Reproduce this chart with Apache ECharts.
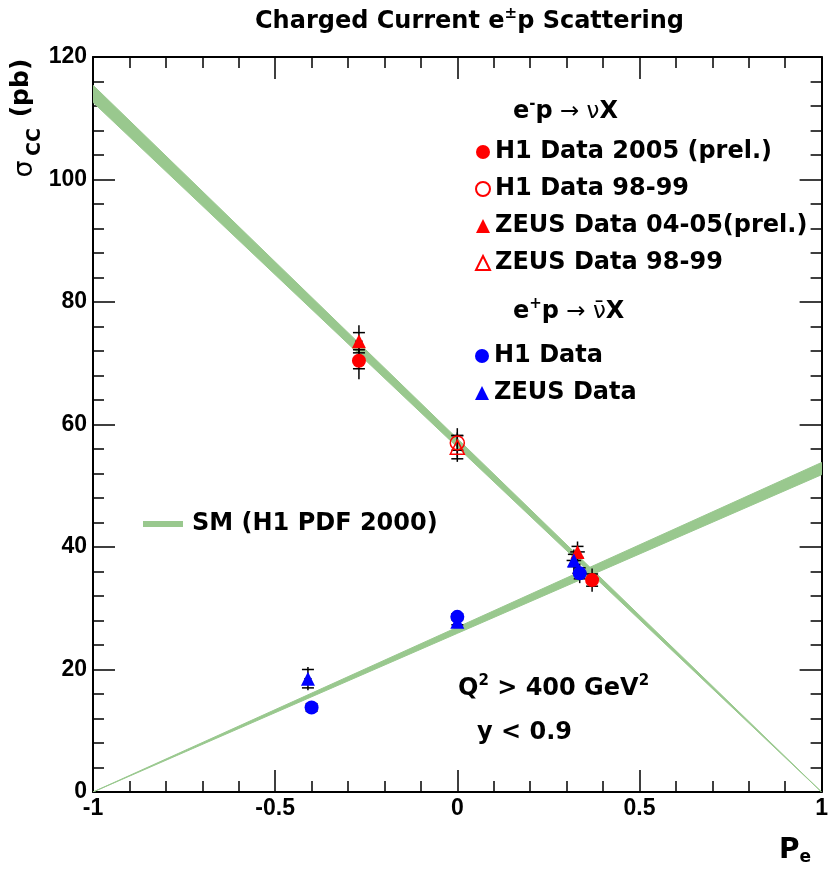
<!DOCTYPE html>
<html>
<head>
<meta charset="utf-8">
<script src="https://cdn.jsdelivr.net/npm/echarts@6/dist/echarts.min.js"></script>
<style>
html,body{margin:0;padding:0;background:#fff;}
#chart{width:831px;height:872px;}
</style>
</head>
<body>
<div id="chart"></div>
<script>
// ---- data ----
const xRange = [-1, 1];
const yRange = [0, 120];
// Standard Model bands (H1 PDF 2000): x, lower edge, upper edge
const smX = [-1, 1];
const smEmLow = [112.6, 0];
const smEmHigh = [115.4, 0];
const smEpLow = [0, 51.8];
const smEpHigh = [0, 53.8];
// e-p -> nu X
const h1_05_x = [-0.27, 0.37];
const h1_05_y = [70.4, 34.6];
const h1_05_xErr = [0.01, 0.01];
const h1_05_stat = [1.3, 1.0];
const h1_05_tot = [3.0, 1.9];

const h1_98_x = [0.0];
const h1_98_y = [57.0];
const h1_98_xErr = [0.0];
const h1_98_stat = [1.2];
const h1_98_tot = [2.4];

const zeus_05_x = [-0.27, 0.33];
const zeus_05_y = [73.6, 39.2];
const zeus_05_xErr = [0.01, 0.02];
const zeus_05_stat = [1.4, 0.9];
const zeus_05_tot = [2.6, 1.7];

const zeus_98_x = [0.0];
const zeus_98_y = [56.3];
const zeus_98_xErr = [0.0];
const zeus_98_stat = [1.9];
const zeus_98_tot = [2.4];
// e+p -> nubar X
const h1_ep_x = [-0.40, 0.0, 0.336];
const h1_ep_y = [13.8, 28.6, 35.7];
const h1_ep_xErr = [0.01, 0.0, 0.02];
const h1_ep_stat = [0.6, 0.5, 0.9];
const h1_ep_tot = [1.0, 0.8, 1.6];

const zeus_ep_x = [-0.41, 0.0, 0.32];
const zeus_ep_y = [18.5, 27.8, 37.8];
const zeus_ep_xErr = [0.01, 0.0, 0.02];
const zeus_ep_stat = [1.5, 0.5, 1.0];
const zeus_ep_tot = [1.9, 0.8, 1.8];

const names = {
  h1_05: 'H1 Data 2005 (prel.)',
  h1_98: 'H1 Data 98-99',
  zeus_05: 'ZEUS Data 04-05(prel.)',
  zeus_98: 'ZEUS Data 98-99',
  h1_ep: 'H1 Data',
  zeus_ep: 'ZEUS Data',
  sm: 'SM (H1 PDF 2000)'
};

// ---- styling ----
const FONT = '"Liberation Sans", Arial, Helvetica, sans-serif';
const TFONT = '"DejaVu Sans", sans-serif';
const GREEN = '#99c88e';
const RED = '#ff0000';
const BLUE = '#0000ff';

const pts = (xs, ys) => xs.map((x, i) => [x, ys[i]]);
const errRows = (xs, ys, xe, st, tt) => xs.map((x, i) => [x, ys[i], xe[i], st[i], tt[i]]);
const bandSegs = (xs, lo, hi) => xs.slice(0, -1).map((x, i) => [x, lo[i], hi[i], xs[i + 1], lo[i + 1], hi[i + 1]]);

function renderBand(params, api) {
  const p1 = api.coord([api.value(0), api.value(1)]);
  const p2 = api.coord([api.value(3), api.value(4)]);
  const p3 = api.coord([api.value(3), api.value(5)]);
  const p4 = api.coord([api.value(0), api.value(2)]);
  return {type: 'polygon', shape: {points: [p1, p2, p3, p4]}, style: {fill: GREEN, stroke: GREEN, lineWidth: 1}};
}
function bandSeries(data) {
  return {type: 'custom', name: names.sm, renderItem: renderBand, data, encode: {x: [0, 3], y: [1, 2, 4, 5]},
          itemStyle: {color: GREEN}, z: 1, silent: true, clip: true};
}

function renderErr(params, api) {
  const x = api.value(0), y = api.value(1), xe = api.value(2), st = api.value(3), tt = api.value(4);
  const top = api.coord([x, y + tt]), bot = api.coord([x, y - tt]);
  const sT = api.coord([x, y + st]), sB = api.coord([x, y - st]);
  const l = api.coord([x - xe, y]), r = api.coord([x + xe, y]);
  const st1 = {stroke: '#000', lineWidth: 1.5};
  const w = 6;
  const children = [
    {type: 'line', shape: {x1: top[0], y1: top[1], x2: bot[0], y2: bot[1]}, style: st1},
    {type: 'line', shape: {x1: sT[0] - w, y1: sT[1], x2: sT[0] + w, y2: sT[1]}, style: st1},
    {type: 'line', shape: {x1: sB[0] - w, y1: sB[1], x2: sB[0] + w, y2: sB[1]}, style: st1}
  ];
  if (xe > 0) children.push({type: 'line', shape: {x1: l[0], y1: l[1], x2: r[0], y2: r[1]}, style: st1});
  return {type: 'group', children};
}
function errSeries(data) {
  return {type: 'custom', renderItem: renderErr, data, encode: {x: 0, y: 1}, z: 3, silent: true, clip: false};
}

function scatter(name, data, symbol, color, filled) {
  return {
    type: 'scatter', name, data, symbol, symbolSize: 14, z: 4, silent: true,
    itemStyle: filled ? {color: color, opacity: 1}
                      : {color: 'rgba(0,0,0,0)', borderColor: color, borderWidth: 1.5, opacity: 1}
  };
}

const tickStyle = {color: '#000', width: 1.5};
function xAxisDef(pos, labels) {
  return {
    type: 'value', position: pos, min: xRange[0], max: xRange[1], interval: 0.5,
    axisLine: {show: true, onZero: false, lineStyle: {color: '#000', width: 2}},
    axisTick: {show: true, inside: true, length: 22, lineStyle: tickStyle},
    minorTick: {show: true, splitNumber: 5, length: 11, lineStyle: tickStyle},
    splitLine: {show: false},
    axisLabel: {show: labels, color: '#000', fontSize: 23, fontWeight: 'bold', fontFamily: FONT, margin: 5},
  };
}
function yAxisDef(pos, labels) {
  return {
    type: 'value', position: pos, min: yRange[0], max: yRange[1], interval: 20,
    axisLine: {show: true, onZero: false, lineStyle: {color: '#000', width: 2}},
    axisTick: {show: true, inside: true, length: 22, lineStyle: tickStyle},
    minorTick: {show: true, splitNumber: 5, length: 11, lineStyle: tickStyle},
    splitLine: {show: false},
    axisLabel: {show: labels, color: '#000', fontSize: 23, fontWeight: 'bold', fontFamily: FONT, margin: 6},
  };
}

const legendText = {fontSize: 24, fontWeight: 'bold', color: '#000', fontFamily: TFONT, lineHeight: 24, padding: [0, 0, 0, 0]};

const bold = (size) => ({fontSize: size, fontWeight: 'bold', fontFamily: TFONT, color: '#000', lineHeight: 30, verticalAlign: 'middle'});
const sup = (size) => ({fontSize: size, fontWeight: 'bold', fontFamily: TFONT, color: '#000', lineHeight: 12, verticalAlign: 'top'});
const sub = (size) => ({fontSize: size, fontWeight: 'bold', fontFamily: TFONT, color: '#000', lineHeight: 12, verticalAlign: 'bottom'});
const thin = (size) => ({fontSize: size, fontWeight: 'normal', fontFamily: TFONT, color: '#000', lineHeight: 30, verticalAlign: 'middle'});

const chart = echarts.init(document.getElementById('chart'), null, {renderer: 'canvas'});

const option = {
  backgroundColor: '#fff',
  animation: false,
  title: {
    text: '{n|Charged Current e}{s|±}{n|p Scattering}',
    left: 250, top: 2,
    textStyle: {rich: {n: bold(24), s: sup(15)}}
  },
  grid: {left: 93, right: 4, top: 57, bottom: 80, containLabel: false},
  xAxis: [xAxisDef('bottom', true), xAxisDef('top', false)],
  yAxis: [yAxisDef('left', true), yAxisDef('right', false)],
  legend: [
    {data: [names.h1_05, names.h1_98, names.zeus_05, names.zeus_98], orient: 'vertical',
     left: 470, top: 135, itemWidth: 14, itemHeight: 14, itemGap: 13, selectedMode: false, textStyle: legendText},
    {data: [names.h1_ep, names.zeus_ep], orient: 'vertical',
     left: 470, top: 339, itemWidth: 14, itemHeight: 14, itemGap: 13, selectedMode: false, textStyle: legendText},
    {data: [{name: names.sm, icon: 'rect', itemStyle: {color: GREEN}}], orient: 'vertical',
     left: 138, top: 507, itemWidth: 40, itemHeight: 6, selectedMode: false,
     textStyle: Object.assign({}, legendText, {padding: [0, 0, 0, 4]})}
  ],
  graphic: [
    {type: 'text', left: 513, top: 97, style: {text: '{n|e}{s|-}{n|p}{t| → ν}{n|X}', rich: {n: bold(24), s: sup(15), t: thin(23)}}},
    {type: 'text', left: 513, top: 297, style: {text: '{n|e}{s|+}{n|p}{t| → ν\u0304}{n|X}', rich: {n: bold(24), s: sup(15), t: thin(23)}}},
    {type: 'text', left: 458, top: 674, style: {text: '{n|Q}{s|2}{n| > 400 GeV}{s|2}', rich: {n: bold(24), s: sup(15)}}},
    {type: 'text', left: 477, top: 721, style: {text: '{n|y < 0.9}', rich: {n: bold(24)}}},
    // y axis title
    {type: 'text', x: 21, y: 88, rotation: Math.PI / 2, style: {text: '(pb)', font: 'bold 25px ' + TFONT, fill: '#000', align: 'center', verticalAlign: 'middle'}},
    {type: 'text', x: 35, y: 142, rotation: Math.PI / 2, style: {text: 'CC', font: 'bold 19px ' + TFONT, fill: '#000', align: 'center', verticalAlign: 'middle'}},
    {type: 'text', x: 25, y: 169, rotation: Math.PI / 2, style: {text: 'σ', font: '27px ' + TFONT, fill: '#000', align: 'center', verticalAlign: 'middle'}},
    // x axis title
    {type: 'text', left: 779, top: 837, style: {text: '{n|P}{b|e}', rich: {n: bold(28), b: sub(17)}}}
  ],
  series: [
    bandSeries(bandSegs(smX, smEmLow, smEmHigh)),
    bandSeries(bandSegs(smX, smEpLow, smEpHigh)),

    errSeries(errRows(h1_05_x, h1_05_y, h1_05_xErr, h1_05_stat, h1_05_tot)),
    errSeries(errRows(h1_98_x, h1_98_y, h1_98_xErr, h1_98_stat, h1_98_tot)),
    errSeries(errRows(zeus_05_x, zeus_05_y, zeus_05_xErr, zeus_05_stat, zeus_05_tot)),
    errSeries(errRows(zeus_98_x, zeus_98_y, zeus_98_xErr, zeus_98_stat, zeus_98_tot)),
    errSeries(errRows(h1_ep_x, h1_ep_y, h1_ep_xErr, h1_ep_stat, h1_ep_tot)),
    errSeries(errRows(zeus_ep_x, zeus_ep_y, zeus_ep_xErr, zeus_ep_stat, zeus_ep_tot)),

    scatter(names.h1_05, pts(h1_05_x, h1_05_y), 'circle', RED, true),
    scatter(names.h1_98, pts(h1_98_x, h1_98_y), 'circle', RED, false),
    scatter(names.zeus_05, pts(zeus_05_x, zeus_05_y), 'triangle', RED, true),
    scatter(names.zeus_98, pts(zeus_98_x, zeus_98_y), 'triangle', RED, false),
    scatter(names.h1_ep, pts(h1_ep_x, h1_ep_y), 'circle', BLUE, true),
    scatter(names.zeus_ep, pts(zeus_ep_x, zeus_ep_y), 'triangle', BLUE, true)
  ]
};
chart.setOption(option);
</script>
</body>
</html>
